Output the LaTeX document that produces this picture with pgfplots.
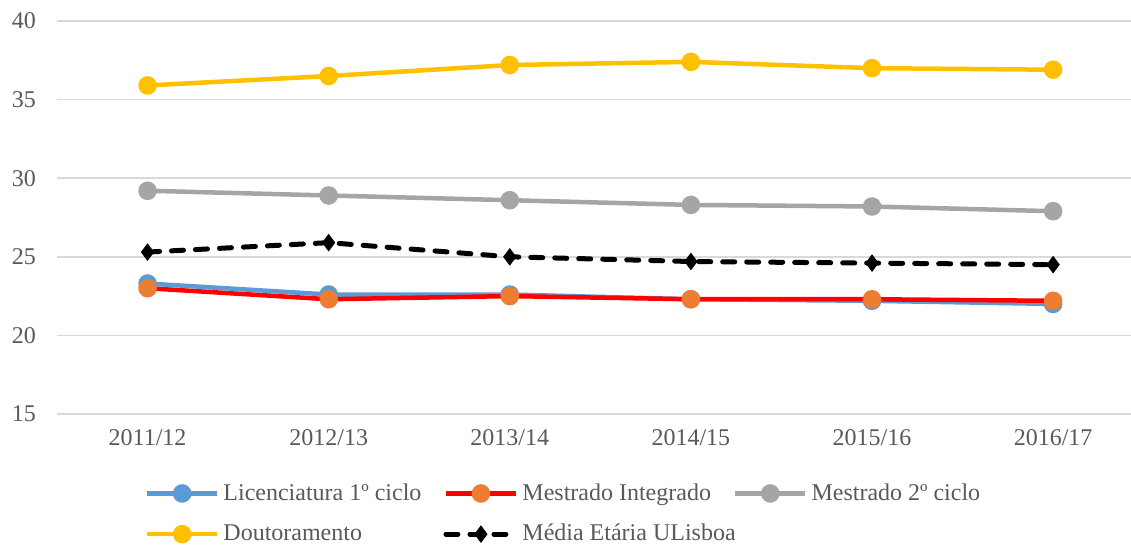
\documentclass[border=0pt]{standalone}
\usepackage{fontspec}
\setmainfont{Liberation Serif}
\usepackage{pgfplots}
\pgfplotsset{compat=1.18}
\definecolor{cLic}{HTML}{5B9BD5}
\definecolor{cMIline}{HTML}{FF0000}
\definecolor{cMImark}{HTML}{ED7D31}
\definecolor{cM2}{HTML}{A5A5A5}
\definecolor{cDout}{HTML}{FFC000}
\definecolor{cGrid}{HTML}{D9D9D9}
\definecolor{cText}{HTML}{595959}
\newcommand{\chartfont}{\fontsize{12pt}{14pt}\selectfont}

\begin{document}
\begin{tikzpicture}
\useasboundingbox (-28.5pt,10.5pt) rectangle (537pt,-262pt);
\begin{axis}[
    at={(0pt,0pt)}, anchor=north west,
    scale only axis,
    width=537pt, height=196.5pt,
    xmin=-0.5, xmax=5.43,
    ymin=15, ymax=40,
    xtick={0,1,2,3,4,5},
    xticklabels={2011/12,2012/13,2013/14,2014/15,2015/16,2016/17},
    ytick={15,20,25,30,35,40},
    ymajorgrids=true,
    grid style={draw=cGrid, line width=0.75pt},
    axis line style={draw=none},
    major tick length=0pt,
    /pgf/number format/assume math mode=true,
    tick label style={font=\chartfont, text=cText},
    yticklabel style={xshift=-7pt},
    xticklabel style={yshift=-4pt},
    clip=false,
    legend columns=3,
    legend style={
        at={(0.0815,-0.166)}, anchor=north west,
        draw=none, fill=none, inner sep=0pt,
        font=\chartfont, text=cText,
        cells={anchor=west},
        row sep=6.5pt,
        /tikz/every even column/.append style={column sep=9pt},
    },
    legend image code/.code={
        \draw[mark repeat=2,mark phase=2,#1] plot coordinates {(0pt,0pt) (17.5pt,0pt) (35pt,0pt)};
    },
]
\addplot[cLic, line width=2.25pt, mark=*, mark size=3.5pt, mark options={solid, fill=cLic, draw=cLic}]
    coordinates {(0,23.3) (1,22.6) (2,22.6) (3,22.3) (4,22.2) (5,22.0)};
\addlegendentry{Licenciatura 1º ciclo}
\addplot[cMIline, line width=2.25pt, mark=*, mark size=3.5pt, mark options={solid, fill=cMImark, draw=cMImark}]
    coordinates {(0,23.0) (1,22.3) (2,22.5) (3,22.3) (4,22.3) (5,22.2)};
\addlegendentry{Mestrado Integrado}
\addplot[cM2, line width=2.25pt, mark=*, mark size=3.5pt, mark options={solid, fill=cM2, draw=cM2}]
    coordinates {(0,29.2) (1,28.9) (2,28.6) (3,28.3) (4,28.2) (5,27.9)};
\addlegendentry{Mestrado 2º ciclo}
\addplot[cDout, line width=2.25pt, mark=*, mark size=3.5pt, mark options={solid, fill=cDout, draw=cDout}]
    coordinates {(0,35.9) (1,36.5) (2,37.2) (3,37.4) (4,37.0) (5,36.9)};
\addlegendentry{Doutoramento}
\addplot[black, line width=2.5pt, line cap=round, dash pattern=on 6pt off 6pt,
    mark=diamond*, mark size=4pt, mark options={solid, fill=black, draw=black, line width=0.5pt}]
    coordinates {(0,25.3) (1,25.9) (2,25.0) (3,24.7) (4,24.6) (5,24.5)};
\addlegendentry{\rlap{Média Etária ULisboa}}
\end{axis}
\end{tikzpicture}
\end{document}
